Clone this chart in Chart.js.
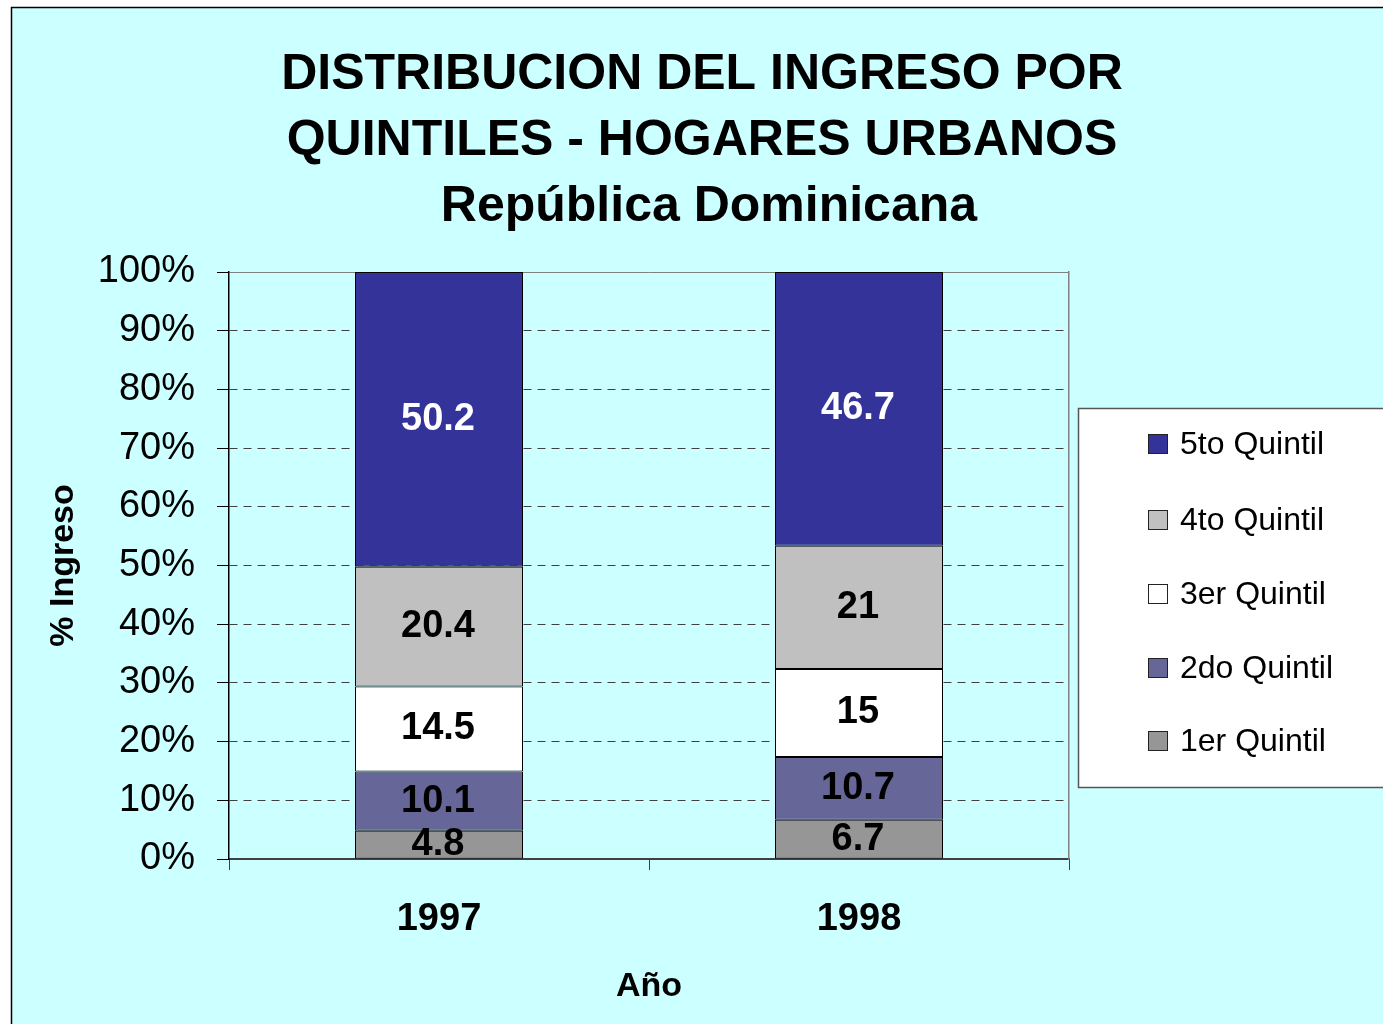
<!DOCTYPE html>
<html>
<head>
<meta charset="utf-8">
<script src="https://cdn.jsdelivr.net/npm/chart.js@4/dist/chart.umd.min.js"></script>
<style>
html,body{margin:0;padding:0;background:#fff;}
#wrap{width:1383px;height:1024px;}
</style>
</head>
<body>
<div id="wrap"><canvas id="c" width="1383" height="1024"></canvas></div>
<script>
const years = ['1997', '1998'];
const seriesNames = ['1er Quintil', '2do Quintil', '3er Quintil', '4to Quintil', '5to Quintil'];
const q1 = [4.8, 6.7];
const q2 = [10.1, 10.7];
const q3 = [14.5, 15];
const q4 = [20.4, 21];
const q5 = [50.2, 46.7];
const seriesColors = ['#969696', '#666699', '#FFFFFF', '#C0C0C0', '#333399'];
const labelColors = ['#000', '#000', '#000', '#000', '#fff'];
const yTicks = [0, 10, 20, 30, 40, 50, 60, 70, 80, 90, 100];
const titleLines = ['DISTRIBUCION DEL INGRESO POR', 'QUINTILES - HOGARES URBANOS', ' República Dominicana'];

const FONT = '"Liberation Sans", Arial, sans-serif';
const raw = [q1, q2, q3, q4, q5];
const totals = years.map((_, i) => raw.reduce((s, a) => s + a[i], 0));

const datasets = raw.map((arr, k) => ({
  label: seriesNames[k],
  data: arr.map((v, i) => v / totals[i] * 100),
  rawValues: arr,
  backgroundColor: seriesColors[k],
  borderColor: '#000',
  borderWidth: 1,
  borderSkipped: false,
  stack: 's',
  categoryPercentage: 1,
  barPercentage: 0.4
}));

const bgPlugin = {
  id: 'bg',
  beforeDraw(chart) {
    const ctx = chart.ctx;
    ctx.save();
    ctx.fillStyle = '#ffffff';
    ctx.fillRect(0, 0, chart.width, chart.height);
    ctx.fillStyle = '#CCFFFF';
    ctx.fillRect(11, 7, chart.width, chart.height);
    ctx.strokeStyle = '#000';
    ctx.lineWidth = 1.5;
    ctx.beginPath();
    ctx.moveTo(11.5, chart.height);
    ctx.lineTo(11.5, 7.5);
    ctx.lineTo(chart.width, 7.5);
    ctx.stroke();
    ctx.restore();
  }
};

const labelPlugin = {
  id: 'vals',
  afterDatasetsDraw(chart) {
    const ctx = chart.ctx;
    ctx.save();
    ctx.font = 'bold 38px ' + FONT;
    ctx.textAlign = 'center';
    ctx.textBaseline = 'middle';
    chart.data.datasets.forEach((ds, k) => {
      const meta = chart.getDatasetMeta(k);
      meta.data.forEach((el, i) => {
        const y = (el.y + el.base) / 2;
        ctx.fillStyle = labelColors[k];
        ctx.fillText(String(ds.rawValues[i]), el.x - 1, y);
      });
    });
    ctx.restore();
  }
};

const legendPlugin = {
  id: 'customLegend',
  afterDraw(chart) {
    const ctx = chart.ctx;
    ctx.save();
    const bx = 1078.5, by = 408.5, bh = 379;
    ctx.fillStyle = '#ffffff';
    ctx.fillRect(bx, by, chart.width, bh);
    ctx.strokeStyle = '#555';
    ctx.lineWidth = 1.5;
    ctx.strokeRect(bx, by, chart.width, bh);
    const n = chart.data.datasets.length;
    const ys = [444, 520, 594, 668, 741];
    ctx.font = '32px ' + FONT;
    ctx.textBaseline = 'middle';
    ctx.textAlign = 'left';
    for (let j = 0; j < n; j++) {
      const ds = chart.data.datasets[n - 1 - j];
      const y = ys[j];
      ctx.fillStyle = ds.backgroundColor;
      ctx.fillRect(1148, y - 10, 19, 19);
      ctx.strokeStyle = '#222';
      ctx.lineWidth = 1;
      ctx.strokeRect(1148.5, y - 9.5, 19, 19);
      ctx.fillStyle = '#000';
      ctx.fillText(ds.label, 1180, y + 1);
    }
    ctx.restore();
  }
};

new Chart(document.getElementById('c'), {
  type: 'bar',
  data: { labels: years, datasets },
  options: {
    responsive: false,
    animation: false,
    events: [],
    layout: { padding: { left: 21, right: 0, top: 0, bottom: 0 } },
    plugins: {
      legend: { display: false },
      tooltip: { enabled: false },
      title: {
        display: true,
        text: titleLines,
        color: '#000',
        font: { family: FONT, size: 50, weight: 'bold', lineHeight: '66px' },
        padding: { top: 42, bottom: 32 }
      }
    },
    scales: {
      x: {
        stacked: true,
        grid: {
          display: true,
          drawOnChartArea: false,
          drawTicks: true,
          tickLength: 11,
          offset: true,
          color: '#404040',
          tickColor: '#404040'
        },
        border: { display: true, color: '#404040', width: 2 },
        ticks: {
          color: '#000',
          padding: 27,
          font: { family: FONT, size: 38, weight: 'bold' }
        },
        title: {
          display: true,
          text: 'Año',
          color: '#000',
          font: { family: FONT, size: 34, weight: 'bold' },
          padding: { top: 0, bottom: 17 }
        },
        afterFit(s) { s.height = 165; }
      },
      y: {
        stacked: true,
        min: 0,
        max: 100,
        afterBuildTicks(s) { s.ticks = yTicks.map(v => ({ value: v })); },
        grid: {
          drawTicks: true,
          tickLength: 12,
          color: (c) => (c.tick && c.tick.value === 100) ? '#808080' : (c.tick && c.tick.value === 0 ? 'rgba(0,0,0,0)' : '#404040'),
          tickColor: '#000',
          tickBorderDash: [],
          lineWidth: 1
        },
        border: {
          display: true,
          color: '#000',
          width: 1.5,
          dash: (c) => (c.tick && (c.tick.value === 100 || c.tick.value === 0)) ? [] : [8, 6]
        },
        ticks: {
          color: '#000',
          padding: 22,
          font: { family: FONT, size: 38 },
          callback: (v) => v + '%'
        },
        title: {
          display: true,
          text: '% Ingreso',
          color: '#000',
          font: { family: FONT, size: 34, weight: 'bold' },
          padding: { top: 22, bottom: 0 }
        },
        afterFit(s) { s.width = 208; }
      },
      y2: {
        position: 'right',
        min: 0,
        max: 100,
        grid: { display: false, drawTicks: false },
        ticks: { display: false },
        border: { display: true, color: '#808080', width: 1.5 },
        afterFit(s) { s.width = 314; }
      }
    }
  },
  plugins: [bgPlugin, labelPlugin, legendPlugin]
});
</script>
</body>
</html>
